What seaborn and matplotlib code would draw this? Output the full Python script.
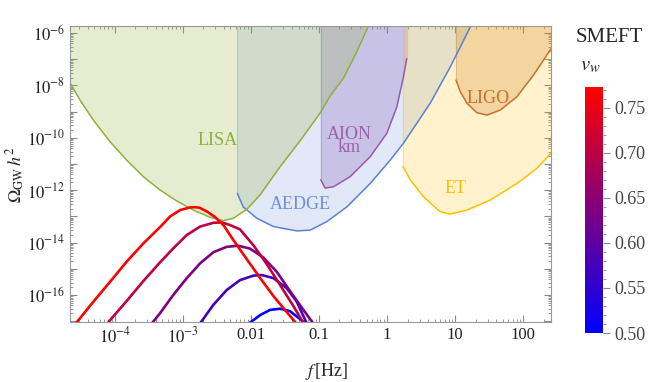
import numpy as np
import pandas as pd
import matplotlib
matplotlib.use('Agg')
import matplotlib.pyplot as plt
import seaborn as sns
from matplotlib.colors import LinearSegmentedColormap, Normalize
from matplotlib.cm import ScalarMappable
from matplotlib.ticker import LogLocator, MultipleLocator, NullFormatter

# --- detector sensitivity curves: f [Hz], Omega_GW h^2 ---
lisa_f = [2.19e-5, 3.07e-5, 4.82e-5, 8.5e-5, 1.49e-4, 2.62e-4, 4.6e-4, 8.1e-4, 1.42e-3,
          2.5e-3, 3.93e-3, 5.5e-3, 8.7e-3, 0.0136, 0.0268, 0.0527, 0.104, 0.146, 0.229,
          0.352, 0.533, 0.58]
lisa_om = [1.26e-8, 2.77e-9, 4.8e-10, 7.1e-11, 1.41e-11, 3.3e-12, 1.02e-12, 3.9e-13, 1.75e-13,
           9.3e-14, 6.9e-14, 8.5e-14, 1.86e-13, 6.6e-13, 7.9e-12, 7.7e-11, 8.9e-10, 4.0e-9, 1.9e-8,
           1.73e-7, 1.86e-6, 3.0e-6]

aedge_f = [6.3e-3, 7.7e-3, 0.0122, 0.0214, 0.0472, 0.074, 0.130, 0.256, 0.565,
           1.11, 1.74, 4.31, 8.5, 16.7, 18.0]
aedge_om = [7.6e-13, 2.3e-13, 8.5e-14, 4.1e-14, 2.8e-14, 3.0e-14, 6.3e-14, 2.3e-13,
            1.8e-12, 1.4e-11, 6.2e-11, 2.1e-9, 5.1e-8, 1.7e-6, 2.5e-6]

aion_f = [0.106, 0.123, 0.163, 0.287, 0.565, 0.993, 1.39, 1.74, 1.95]
aion_om = [2.5e-12, 1.2e-12, 1.35e-12, 3.3e-12, 1.9e-11, 1.5e-10, 1.5e-9, 2.1e-8, 1.07e-7]

et_f = [1.71, 2.19, 3.43, 6.04, 8.47, 14.9, 32.8, 81.0, 160.0, 257.0]
et_om = [7.9e-12, 2.5e-12, 5.6e-13, 1.5e-13, 1.23e-13, 1.75e-13, 4.2e-13, 1.8e-12,
         6.9e-12, 2.6e-11]

ligo_f = [10.3, 11.9, 14.9, 20.9, 29.4, 46.1, 81.0, 142.0, 257.0]
ligo_om = [1.6e-8, 5.8e-9, 2.1e-9, 9.1e-10, 7.4e-10, 1.15e-9, 3.7e-9, 2.5e-8, 2.5e-7]

# --- SMEFT spectra, one per wall velocity ---
vw_values = [0.773, 0.705, 0.635, 0.575, 0.50]
smeft_f = [
    [2.75e-5, 4.82e-5, 8.5e-5, 1.49e-4, 2.62e-4, 4.6e-4, 6.5e-4, 9.1e-4, 1.27e-3, 1.5e-3,
     1.75e-3, 2.24e-3, 2.96e-3, 3.93e-3, 5.5e-3, 8.7e-3, 0.0136, 0.0214, 0.0337, 0.0446],
    [8.0e-5, 1.49e-4, 2.62e-4, 4.6e-4, 7.2e-4, 1.14e-3, 1.79e-3, 2.8e-3, 3.72e-3, 4.9e-3,
     6.9e-3, 0.0109, 0.0171, 0.0268, 0.042, 0.059],
    [3.5e-4, 4.6e-4, 7.2e-4, 1.14e-3, 1.79e-3, 2.8e-3, 4.4e-3, 6.5e-3, 9.7e-3, 0.0152,
     0.024, 0.0376, 0.059, 0.082],
    [1.79e-3, 2.8e-3, 4.4e-3, 6.9e-3, 0.0109, 0.0144, 0.0214, 0.0337, 0.0472, 0.066],
    [9.4e-3, 0.0136, 0.0191, 0.0268, 0.0376, 0.0498, 0.0625],
]
smeft_om = [
    [9.1e-18, 5.5e-17, 3.2e-16, 1.87e-15, 9.3e-15, 3.9e-14, 1.0e-13, 1.75e-13, 2.2e-13, 2.25e-13,
     2.15e-13, 1.55e-13, 9.5e-14, 4.7e-14, 1.26e-14, 2.3e-15, 4.5e-16, 9.1e-17, 2.2e-17, 9.3e-18],
    [9.1e-18, 5.9e-17, 3.4e-16, 1.75e-15, 6.0e-15, 1.95e-14, 4.1e-14, 5.7e-14, 5.9e-14, 4.7e-14,
     3.2e-14, 7.8e-15, 1.5e-15, 2.4e-16, 3.8e-17, 8.5e-18],
    [8.3e-18, 2.0e-17, 1.0e-16, 4.4e-16, 1.62e-15, 4.3e-15, 6.9e-15, 7.6e-15, 5.9e-15, 2.7e-15,
     7.6e-16, 1.4e-16, 2.7e-17, 8.3e-18],
    [8.3e-18, 4.2e-17, 1.55e-16, 3.7e-16, 5.5e-16, 5.8e-16, 4.4e-16, 1.8e-16, 5.5e-17, 8.3e-18],
    [8.3e-18, 1.7e-17, 2.7e-17, 3.0e-17, 2.4e-17, 1.35e-17, 8.3e-18],
]

x_ticks = [1e-4, 1e-3, 1e-2, 1e-1, 1, 10, 100]
x_tick_labels = [r'$10^{-4}$', r'$10^{-3}$', '0.01', '0.1', '1', '10', '100']
y_exps = list(range(-17, -5))
cbar_ticks = [0.50, 0.55, 0.60, 0.65, 0.70, 0.75]

sns.set_style('ticks')
plt.rcParams['font.family'] = ['Liberation Serif', 'DejaVu Serif']
plt.rcParams['mathtext.fontset'] = 'stix'

fig = plt.figure(figsize=(6.59, 3.82), dpi=100)
ax = fig.add_axes([0.1062, 0.157, 0.730, 0.775])
ax.set_xscale('log')
ax.set_yscale('log')

top = 1e-5
# name, f, omega, line colour, fill colour, fill alpha
# (LISA band painted last so the triple overlap comes out grey)
detectors = [
    ('AEDGE', aedge_f, aedge_om, '#5b80d8', '#6b8fdc', 0.20),
    ('AION', aion_f, aion_om, '#9a5aa8', '#8a62b8', 0.28),
    ('ET', et_f, et_om, '#ffbf00', '#ffc000', 0.20),
    ('LIGO', ligo_f, ligo_om, '#c8702a', '#d08020', 0.25),
    ('LISA', lisa_f, lisa_om, '#8fb03a', '#9ab547', 0.25),
]
for name, f, om, lc, fc, a in detectors:
    ax.fill_between(f, om, top, facecolor=fc, alpha=a, edgecolor='none', zorder=1)
    # faint vertical boundary on the left of each band
    ax.plot([f[0], f[0]], [om[0], top], color=lc, alpha=0.3, lw=0.8, zorder=1.5)
for name, f, om, lc, fc, a in detectors:
    sns.lineplot(x=f, y=om, ax=ax, color=lc, lw=1.1, sort=False, estimator=None, zorder=2)

ax.plot([aion_f[-1], aion_f[-1]], [aion_om[-1], top], color='#e0a080', alpha=0.5, lw=0.8)

# SMEFT spectra
cmap = LinearSegmentedColormap.from_list('bluered', ['#0000ff', '#ff0000'])
norm = Normalize(0.50, 0.773)
rows = []
for v, fs, oms in zip(vw_values, smeft_f, smeft_om):
    for f, o in zip(fs, oms):
        rows.append({'f': f, 'omega': o, 'vw': v})
df = pd.DataFrame(rows)
sns.lineplot(data=df, x='f', y='omega', hue='vw', units='vw', estimator=None,
             palette=cmap, hue_norm=norm, lw=1.9, legend=False, sort=False,
             ax=ax, zorder=3)

# detector labels
lab_kw = dict(ha='center', va='center', fontsize=13, zorder=4)
ax.text(3.2e-3, 7.6e-11, 'LISA', color='#8fb03a', **lab_kw)
ax.text(0.0537, 2.95e-13, 'AEDGE', color='#6f8fde', **lab_kw)
ax.text(0.277, 7.6e-11, 'AION\nkm', color='#a060a8', linespacing=0.75, **lab_kw)
ax.text(30.7, 3.16e-9, 'LIGO', color='#c8702a', **lab_kw)
ax.text(10.2, 1.2e-12, 'ET', color='#ffbf00', **lab_kw)

ax.set_xlim(2.19e-5, 257)
ax.set_ylim(9.3e-18, 1.86e-6)
ax.set_xlabel('')
ax.set_ylabel('')

ax.set_xticks(x_ticks, x_tick_labels)
ax.set_yticks([10.0 ** k for k in y_exps],
              [r'$10^{%d}$' % k if k % 2 == 0 else '' for k in y_exps])
ax.xaxis.set_minor_locator(LogLocator(base=10, subs=np.arange(2, 10), numticks=100))
ax.yaxis.set_minor_locator(LogLocator(base=10, subs=np.arange(2, 10), numticks=100))
ax.xaxis.set_minor_formatter(NullFormatter())
ax.yaxis.set_minor_formatter(NullFormatter())
ax.tick_params(which='both', direction='in', top=True, right=True, color='#888888',
               labelsize=12, labelcolor='#222222')
ax.tick_params(which='major', length=5, width=0.8)
ax.tick_params(which='minor', length=2.5, width=0.6)
for s in ax.spines.values():
    s.set_color('#999999')
    s.set_linewidth(0.8)

fig.text(16 / 659, 1 - 175 / 382, r'$\Omega_{\rm GW}\,h^2$', rotation=90,
         ha='center', va='center', fontsize=13)
fig.text(327 / 659, 1 - 372 / 382, r'$f\,$[Hz]', ha='center', va='center', fontsize=13)

# colorbar
cax = fig.add_axes([585 / 659, 49 / 382, 18 / 659, 246 / 382])
sm = ScalarMappable(norm=norm, cmap=cmap)
cb = fig.colorbar(sm, cax=cax)
cb.outline.set_visible(False)
cb.set_ticks(cbar_ticks)
cb.set_ticklabels(['%.2f' % t for t in cbar_ticks])
cax.yaxis.set_minor_locator(MultipleLocator(0.01))
cax.tick_params(which='both', direction='out', color='#888888', labelsize=13,
                labelcolor='#444444')
cax.tick_params(which='major', length=5, width=0.8)
cax.tick_params(which='minor', length=2.5, width=0.6)

fig.text(609 / 659, 1 - 37 / 382, 'SMEFT', ha='center', va='center', fontsize=15)
fig.text(590 / 659, 1 - 66 / 382, r'$v_w$', ha='center', va='center', fontsize=15)

fig.savefig('out.png', dpi=100, facecolor='white')
